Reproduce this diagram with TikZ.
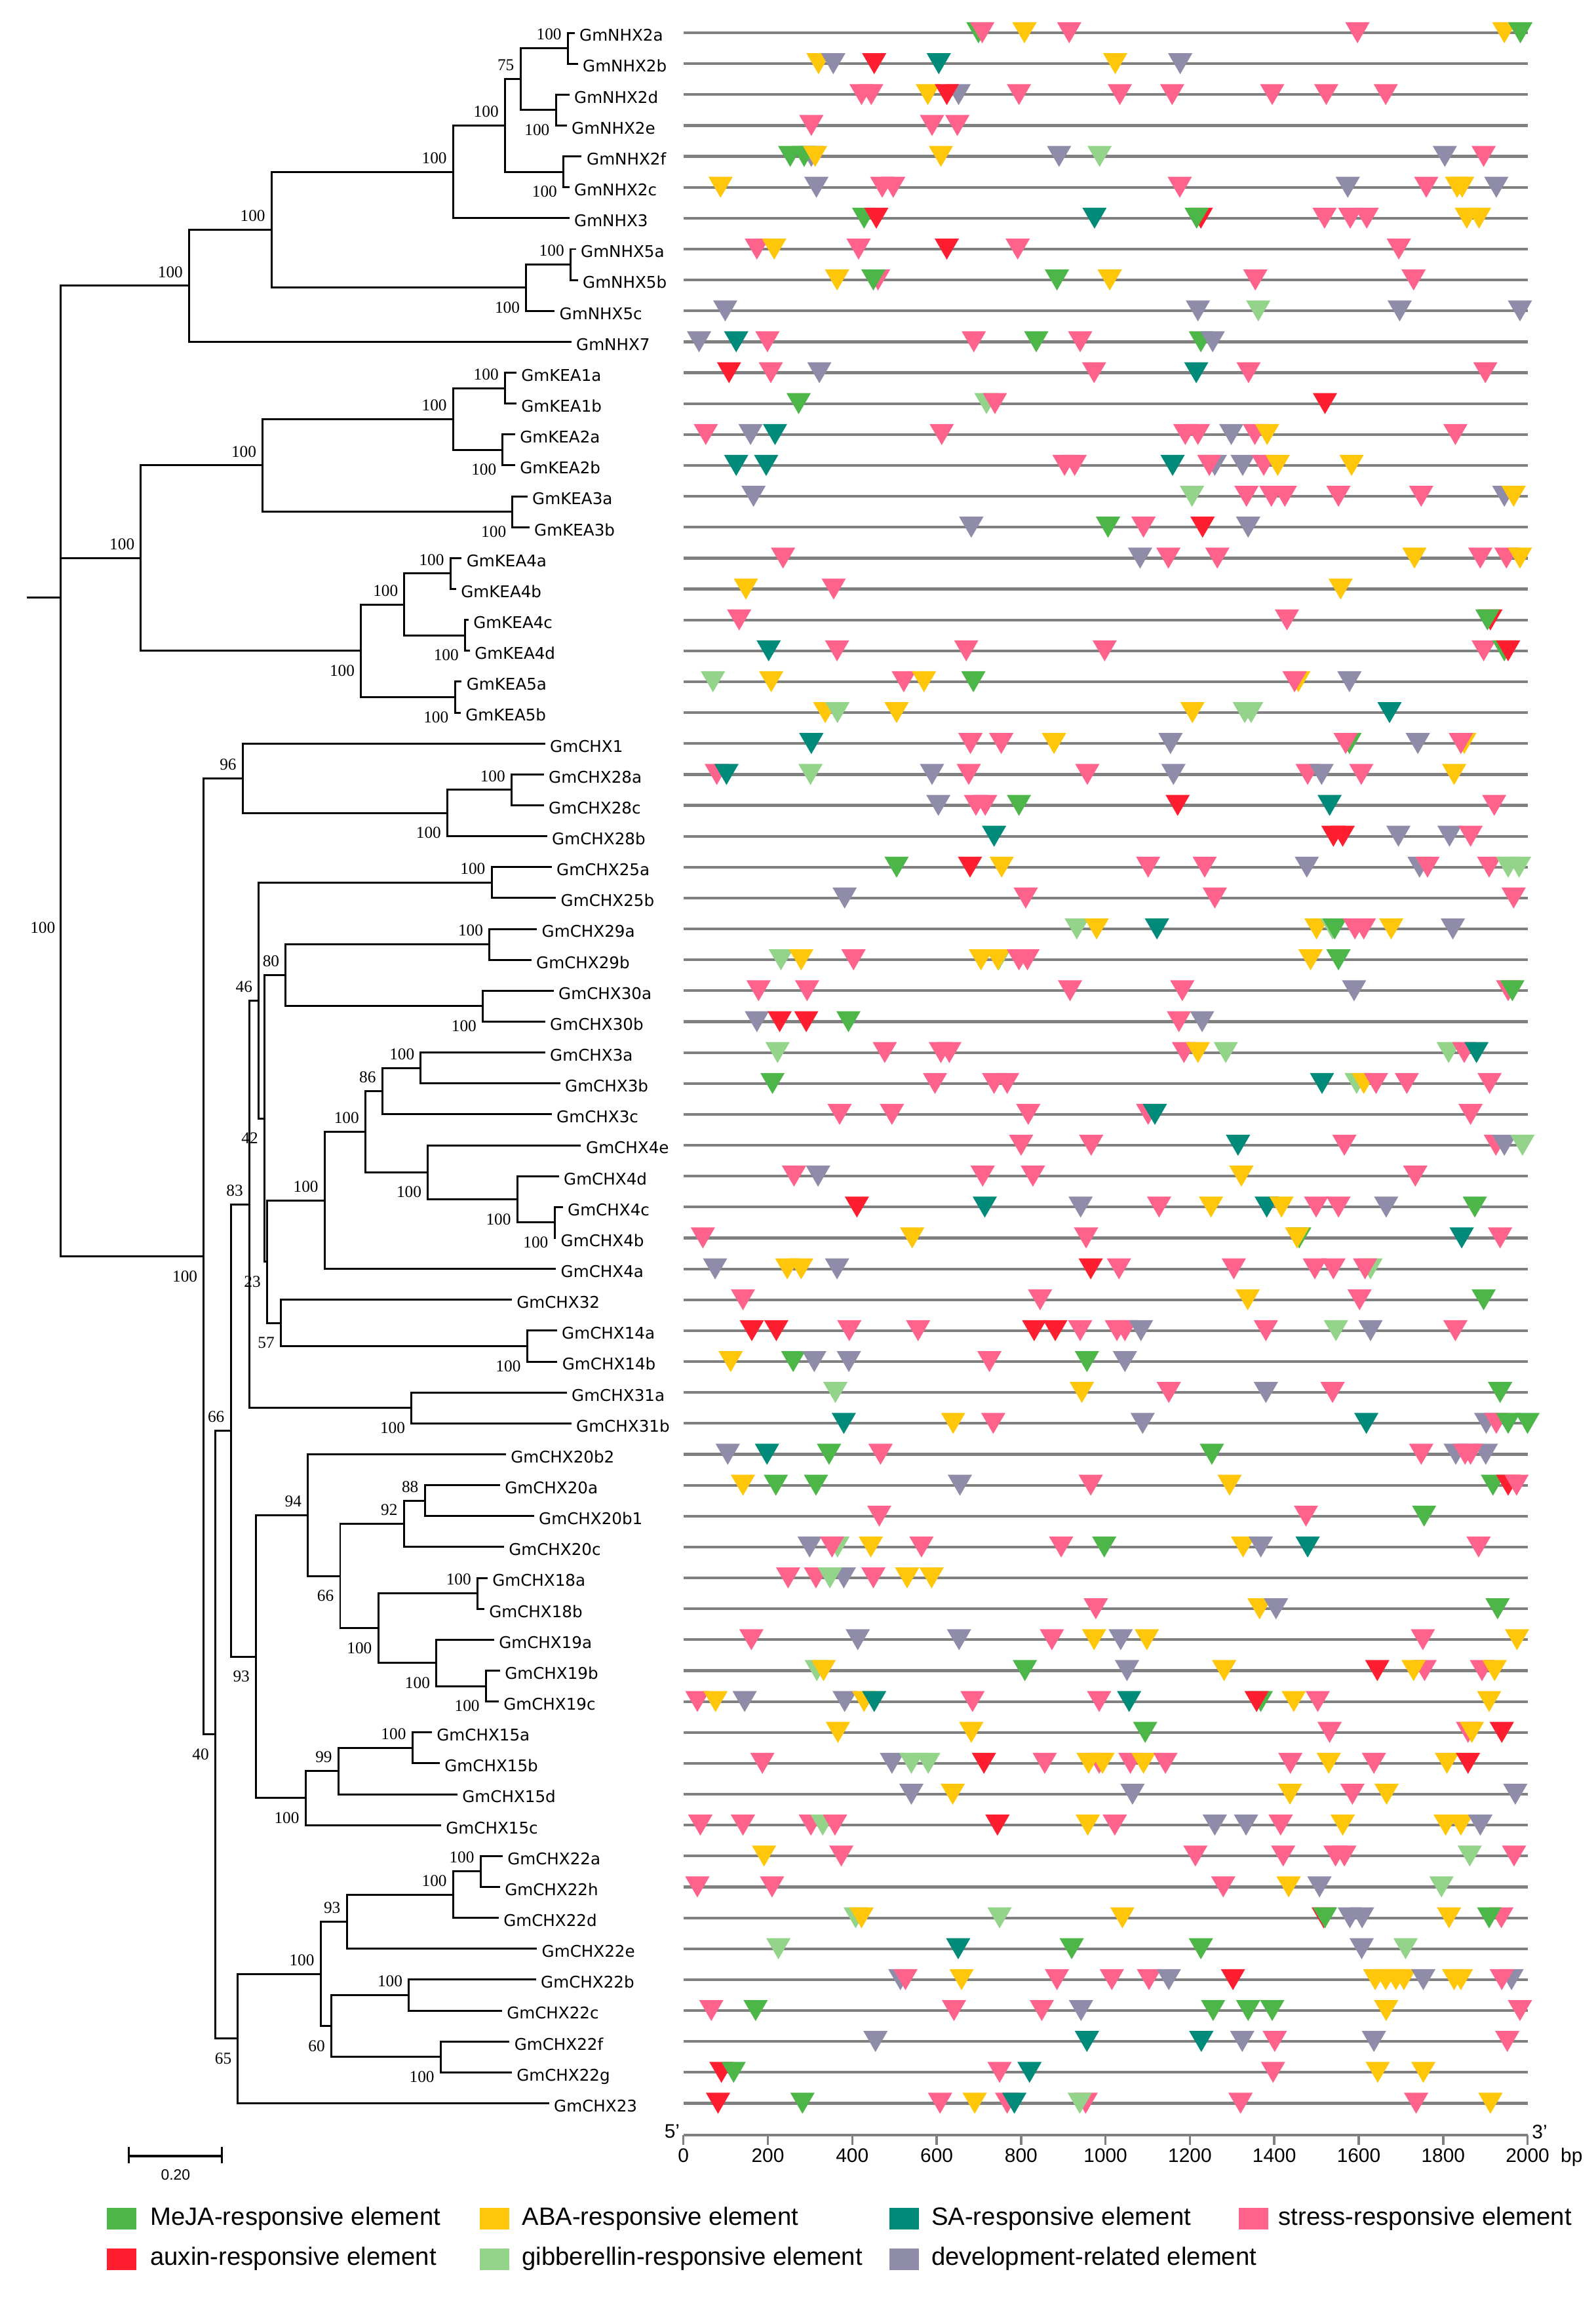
\documentclass[tikz,border=0pt]{standalone}
\usepackage{fontspec}
\setmainfont{Liberation Sans}
\newfontfamily\genefont{DejaVu Sans}
\newfontfamily\bootfont{Liberation Serif}
\usepackage{tikz}
\usetikzlibrary{positioning}

\definecolor{meja}{HTML}{4CB748}
\definecolor{auxin}{HTML}{FF1E30}
\definecolor{aba}{HTML}{FFC60A}
\definecolor{ga}{HTML}{93D48A}
\definecolor{sa}{HTML}{008A7A}
\definecolor{stress}{HTML}{FF638C}
\definecolor{dev}{HTML}{8F8CAA}
\definecolor{linegray}{HTML}{808080}

\tikzset{
    branch/.style={line width=0.85pt},
    gene/.style={anchor=west, inner sep=0.07cm, text height=0.8em, text depth=0.07em, font=\genefont\fontsize{7}{8}\selectfont},
    bsup/.style={anchor=south east, inner sep=0pt, xshift=-0.09cm, yshift=0.12cm, font=\bootfont\fontsize{7.2}{8}\selectfont},
    bsdn/.style={anchor=north east, inner sep=0pt, xshift=-0.09cm, yshift=-0.21cm, font=\bootfont\fontsize{7.2}{8}\selectfont},
    promoter/.style={draw=linegray, line width=1.2pt},
    axisline/.style={draw=linegray, line width=1.3pt},
    axistick/.style={draw=linegray, line width=1pt},
    axislab/.style={anchor=north, inner sep=0.05cm, font=\fontsize{8.5}{10}\selectfont},
    endlab/.style={inner sep=0.03cm, font=\fontsize{8.5}{10}\selectfont},
    scalebar/.style={line width=0.9pt},
    legbox/.style={minimum width=0.45cm, minimum height=0.33cm, inner sep=0pt},
    legtext/.style={inner sep=0pt, font=\fontsize{10.9}{13}\selectfont}
}

% one cis-element: row, position (bp), colour
\newcommand{\ciselem}[3]{\fill[fill=#3] ({#2-28.8},{#1-0.34}) -- ({#2+28.8},{#1-0.34}) -- (#2,{#1+0.34}) -- cycle;}
% one promoter: row, list of position/colour
\newcommand{\promrow}[2]{\draw[promoter] (0,#1) -- (2000,#1);
    \foreach \pos/\col in {#2} {\ciselem{#1}{\pos}{\col}}}

\begin{document}
\begin{tikzpicture}[x=0.01cm, y=-0.4714cm]
\useasboundingbox (0,-1.0607) rectangle (2436,73.27);

% ---- tree: internal nodes
\coordinate (stub) at (40.6,18.28);
\coordinate (root) at (92.6,18.28);
% NHX
\coordinate (nA) at (288.7,8.1875);
\coordinate (nB) at (414.5,6.375);
\coordinate (nC) at (691.7,4.5);
\coordinate (nD) at (803.2,8.25);
\coordinate (nE) at (770.8,3.0);
\coordinate (nF) at (794.5,1.5);
\coordinate (nG) at (860.0,4.5);
\coordinate (nH) at (866.8,0.5);
\coordinate (nI) at (848.5,2.5);
\coordinate (nJ) at (870.9,7.5);
% KEA
\coordinate (nK) at (215.0,17.0);
\coordinate (nL) at (400.9,14.0);
\coordinate (nM) at (551.0,20.0);
\coordinate (nN) at (691.7,12.5);
\coordinate (nO) at (782.3,15.5);
\coordinate (nP) at (770.8,11.5);
\coordinate (nQ) at (767.4,13.5);
\coordinate (nR) at (617.3,18.5);
\coordinate (nS) at (694.4,21.5);
\coordinate (nT) at (687.6,17.5);
\coordinate (nU) at (709.9,19.5);
% CHX
\coordinate (nV) at (311.0,39.596);
\coordinate (nW) at (370.5,24.125);
\coordinate (nY) at (682.9,25.25);
\coordinate (n28) at (780.9,24.5);
\coordinate (n40) at (328.6,55.067);
\coordinate (nAA) at (352.3,45.2275);
\coordinate (n83) at (380.7,37.908);
\coordinate (n46) at (394.9,31.316);
\coordinate (n25) at (750.5,27.5);
\coordinate (n42) at (403.7,35.133);
\coordinate (n80) at (436.1,30.5);
\coordinate (n29) at (747.1,29.5);
\coordinate (n30) at (737.0,31.5);
\coordinate (n23) at (407.7,39.766);
\coordinate (n34) at (495.6,37.781);
\coordinate (n34a) at (557.8,35.5625);
\coordinate (n3) at (583.5,34.25);
\coordinate (n3ab) at (642.3,33.5);
\coordinate (n4) at (653.1,36.875);
\coordinate (n4bcd) at (789.7,37.75);
\coordinate (n4bc) at (846.5,38.5);
\coordinate (n57) at (428.7,41.75);
\coordinate (n14) at (804.6,42.5);
\coordinate (n31) at (628.1,44.5);
\coordinate (n93) at (390.8,52.547);
\coordinate (n94) at (469.9,47.969);
\coordinate (n66) at (519.3,49.9375);
\coordinate (n20) at (616.6,48.25);
\coordinate (n20ab) at (648.4,47.5);
\coordinate (n1819) at (577.4,51.625);
\coordinate (n18) at (728.9,50.5);
\coordinate (n19) at (666.0,52.75);
\coordinate (n19bc) at (741.7,53.5);
\coordinate (n15) at (466.5,57.125);
\coordinate (n15abd) at (516.6,56.25);
\coordinate (n15ab) at (629.5,55.5);
\coordinate (n65) at (363.1,64.906);
\coordinate (n22) at (489.5,62.8125);
\coordinate (n22e) at (529.4,61.125);
\coordinate (n22ahd) at (691.7,60.25);
\coordinate (n22ah) at (733.6,59.5);
\coordinate (n60) at (505.7,64.5);
\coordinate (n22bc) at (624.1,63.5);
\coordinate (n22fg) at (672.7,65.5);

% ---- tree: leaves
\node[gene] (g0) at (877,0) {GmNHX2a};
\node[gene] (g1) at (882,1) {GmNHX2b};
\node[gene] (g2) at (869,2) {GmNHX2d};
\node[gene] (g3) at (865,3) {GmNHX2e};
\node[gene] (g4) at (888,4) {GmNHX2f};
\node[gene] (g5) at (869,5) {GmNHX2c};
\node[gene] (g6) at (869,6) {GmNHX3};
\node[gene] (g7) at (879,7) {GmNHX5a};
\node[gene] (g8) at (882,8) {GmNHX5b};
\node[gene] (g9) at (846.5,9) {GmNHX5c};
\node[gene] (g10) at (872,10) {GmNHX7};
\node[gene] (g11) at (788,11) {GmKEA1a};
\node[gene] (g12) at (788,12) {GmKEA1b};
\node[gene] (g13) at (786,13) {GmKEA2a};
\node[gene] (g14) at (786,14) {GmKEA2b};
\node[gene] (g15) at (805,15) {GmKEA3a};
\node[gene] (g16) at (808,16) {GmKEA3b};
\node[gene] (g17) at (704.5,17) {GmKEA4a};
\node[gene] (g18) at (696,18) {GmKEA4b};
\node[gene] (g19) at (715,19) {GmKEA4c};
\node[gene] (g20) at (717,20) {GmKEA4d};
\node[gene] (g21) at (704.5,21) {GmKEA5a};
\node[gene] (g22) at (703,22) {GmKEA5b};
\node[gene] (g23) at (832,23) {GmCHX1};
\node[gene] (g24) at (830,24) {GmCHX28a};
\node[gene] (g25) at (830,25) {GmCHX28c};
\node[gene] (g26) at (835,26) {GmCHX28b};
\node[gene] (g27) at (842,27) {GmCHX25a};
\node[gene] (g28) at (848.5,28) {GmCHX25b};
\node[gene] (g29) at (819.5,29) {GmCHX29a};
\node[gene] (g30) at (811,30) {GmCHX29b};
\node[gene] (g31) at (845,31) {GmCHX30a};
\node[gene] (g32) at (832,32) {GmCHX30b};
\node[gene] (g33) at (832,33) {GmCHX3a};
\node[gene] (g34) at (855,34) {GmCHX3b};
\node[gene] (g35) at (842,35) {GmCHX3c};
\node[gene] (g36) at (887,36) {GmCHX4e};
\node[gene] (g37) at (853,37) {GmCHX4d};
\node[gene] (g38) at (859,38) {GmCHX4c};
\node[gene] (g39) at (848.5,39) {GmCHX4b};
\node[gene] (g40) at (848.5,40) {GmCHX4a};
\node[gene] (g41) at (781,41) {GmCHX32};
\node[gene] (g42) at (850,42) {GmCHX14a};
\node[gene] (g43) at (850.6,43) {GmCHX14b};
\node[gene] (g44) at (865,44) {GmCHX31a};
\node[gene] (g45) at (872,45) {GmCHX31b};
\node[gene] (g46) at (772,46) {GmCHX20b2};
\node[gene] (g47) at (763,47) {GmCHX20a};
\node[gene] (g48) at (815,48) {GmCHX20b1};
\node[gene] (g49) at (769,49) {GmCHX20c};
\node[gene] (g50) at (744,50) {GmCHX18a};
\node[gene] (g51) at (739,51) {GmCHX18b};
\node[gene] (g52) at (754,52) {GmCHX19a};
\node[gene] (g53) at (763,53) {GmCHX19b};
\node[gene] (g54) at (761,54) {GmCHX19c};
\node[gene] (g55) at (659,55) {GmCHX15a};
\node[gene] (g56) at (671,56) {GmCHX15b};
\node[gene] (g57) at (698,57) {GmCHX15d};
\node[gene] (g58) at (673,58) {GmCHX15c};
\node[gene] (g59) at (767,59) {GmCHX22a};
\node[gene] (g60) at (763,60) {GmCHX22h};
\node[gene] (g61) at (761,61) {GmCHX22d};
\node[gene] (g62) at (819.5,62) {GmCHX22e};
\node[gene] (g63) at (818,63) {GmCHX22b};
\node[gene] (g64) at (766,64) {GmCHX22c};
\node[gene] (g65) at (777.5,65) {GmCHX22f};
\node[gene] (g66) at (781,66) {GmCHX22g};
\node[gene] (g67) at (838,67) {GmCHX23};

% ---- tree: branches
\draw[branch] (stub) -- (root) (root) |- (nA) (root) |- (nK) (root) |- (nV);
\draw[branch] (nA) |- (nB) (nA) |- (g10.west)
    (nB) |- (nC) (nB) |- (nD)
    (nC) |- (nE) (nC) |- (g6.west)
    (nE) |- (nF) (nE) |- (nG)
    (nF) |- (nH) (nF) |- (nI)
    (nH) |- (g0.west) (nH) |- (g1.west)
    (nI) |- (g2.west) (nI) |- (g3.west)
    (nG) |- (g4.west) (nG) |- (g5.west)
    (nD) |- (nJ) (nD) |- (g9.west)
    (nJ) |- (g7.west) (nJ) |- (g8.west);
\draw[branch] (nK) |- (nL) (nK) |- (nM)
    (nL) |- (nN) (nL) |- (nO)
    (nN) |- (nP) (nN) |- (nQ)
    (nP) |- (g11.west) (nP) |- (g12.west)
    (nQ) |- (g13.west) (nQ) |- (g14.west)
    (nO) |- (g15.west) (nO) |- (g16.west)
    (nM) |- (nR) (nM) |- (nS)
    (nR) |- (nT) (nR) |- (nU)
    (nT) |- (g17.west) (nT) |- (g18.west)
    (nU) |- (g19.west) (nU) |- (g20.west)
    (nS) |- (g21.west) (nS) |- (g22.west);
\draw[branch] (nV) |- (nW) (nV) |- (n40)
    (nW) |- (g23.west) (nW) |- (nY)
    (nY) |- (n28) (nY) |- (g26.west)
    (n28) |- (g24.west) (n28) |- (g25.west)
    (n40) |- (nAA) (n40) |- (n65)
    (nAA) |- (n83) (nAA) |- (n93)
    (n83) |- (n46) (n83) |- (n31)
    (n46) |- (n25) (n46) |- (n42)
    (n25) |- (g27.west) (n25) |- (g28.west)
    (n42) |- (n80) (n42) |- (n23)
    (n80) |- (n29) (n80) |- (n30)
    (n29) |- (g29.west) (n29) |- (g30.west)
    (n30) |- (g31.west) (n30) |- (g32.west)
    (n23) |- (n34) (n23) |- (n57)
    (n34) |- (n34a) (n34) |- (g40.west)
    (n34a) |- (n3) (n34a) |- (n4)
    (n3) |- (n3ab) (n3) |- (g35.west)
    (n3ab) |- (g33.west) (n3ab) |- (g34.west)
    (n4) |- (g36.west) (n4) |- (n4bcd)
    (n4bcd) |- (g37.west) (n4bcd) |- (n4bc)
    (n4bc) |- (g38.west) (n4bc) |- (g39.west)
    (n57) |- (g41.west) (n57) |- (n14)
    (n14) |- (g42.west) (n14) |- (g43.west)
    (n31) |- (g44.west) (n31) |- (g45.west);
\draw[branch] (n93) |- (n94) (n93) |- (n15)
    (n94) |- (g46.west) (n94) |- (n66)
    (n66) |- (n20) (n66) |- (n1819)
    (n20) |- (n20ab) (n20) |- (g49.west)
    (n20ab) |- (g47.west) (n20ab) |- (g48.west)
    (n1819) |- (n18) (n1819) |- (n19)
    (n18) |- (g50.west) (n18) |- (g51.west)
    (n19) |- (g52.west) (n19) |- (n19bc)
    (n19bc) |- (g53.west) (n19bc) |- (g54.west)
    (n15) |- (n15abd) (n15) |- (g58.west)
    (n15abd) |- (n15ab) (n15abd) |- (g57.west)
    (n15ab) |- (g55.west) (n15ab) |- (g56.west)
    (n65) |- (n22) (n65) |- (g67.west)
    (n22) |- (n22e) (n22) |- (n60)
    (n22e) |- (n22ahd) (n22e) |- (g62.west)
    (n22ahd) |- (n22ah) (n22ahd) |- (g61.west)
    (n22ah) |- (g59.west) (n22ah) |- (g60.west)
    (n60) |- (n22bc) (n60) |- (n22fg)
    (n22bc) |- (g63.west) (n22bc) |- (g64.west)
    (n22fg) |- (g65.west) (n22fg) |- (g66.west);

% ---- bootstrap values
\node[bsup, anchor=east, xshift=0.05cm, yshift=-0.12cm] (broot) at (89,28.97) {100};
\node[bsup] (bA) at (nA) {100};
\node[bsup] (bB) at (nB) {100};
\node[bsup] (bC) at (nC) {100};
\node[bsdn] (bD) at (nD) {100};
\node[bsup] (bE) at (nE) {100};
\node[bsup] (bF) at (nF) {75};
\node[bsdn] (bG) at (nG) {100};
\node[bsup] (bH) at (nH) {100};
\node[bsdn] (bI) at (nI) {100};
\node[bsup] (bJ) at (nJ) {100};
\node[bsup] (bK) at (nK) {100};
\node[bsup] (bL) at (nL) {100};
\node[bsdn] (bM) at (nM) {100};
\node[bsup] (bN) at (nN) {100};
\node[bsdn] (bO) at (nO) {100};
\node[bsup] (bP) at (nP) {100};
\node[bsdn] (bQ) at (nQ) {100};
\node[bsup] (bR) at (nR) {100};
\node[bsdn] (bS) at (nS) {100};
\node[bsup] (bT) at (nT) {100};
\node[bsdn] (bU) at (nU) {100};
\node[bsdn] (bV) at (nV) {100};
\node[bsup] (bW) at (nW) {96};
\node[bsdn] (bY) at (nY) {100};
\node[bsup] (b28) at (n28) {100};
\node[bsdn] (b40) at (n40) {40};
\node[bsup] (bAA) at (nAA) {66};
\node[bsup] (b83) at (n83) {83};
\node[bsup] (b46) at (n46) {46};
\node[bsup] (b25) at (n25) {100};
\node[bsdn] (b42) at (n42) {42};
\node[bsup] (b80) at (n80) {80};
\node[bsup] (b29) at (n29) {100};
\node[bsdn] (b30) at (n30) {100};
\node[bsdn] (b23) at (n23) {23};
\node[bsup] (b34) at (n34) {100};
\node[bsup] (b34a) at (n34a) {100};
\node[bsup] (b3) at (n3) {86};
\node[bsup] (b3ab) at (n3ab) {100};
\node[bsdn] (b4) at (n4) {100};
\node[bsdn] (b4bcd) at (n4bcd) {100};
\node[bsdn] (b4bc) at (n4bc) {100};
\node[bsdn] (b57) at (n57) {57};
\node[bsdn] (b14) at (n14) {100};
\node[bsdn] (b31) at (n31) {100};
\node[bsdn] (b93) at (n93) {93};
\node[bsup] (b94) at (n94) {94};
\node[bsdn] (b66) at (n66) {66};
\node[bsup] (b20) at (n20) {92};
\node[bsup] (b20ab) at (n20ab) {88};
\node[bsdn] (b1819) at (n1819) {100};
\node[bsup] (b18) at (n18) {100};
\node[bsdn] (b19) at (n19) {100};
\node[bsdn] (b19bc) at (n19bc) {100};
\node[bsdn] (b15) at (n15) {100};
\node[bsup] (b15abd) at (n15abd) {99};
\node[bsup] (b15ab) at (n15ab) {100};
\node[bsdn] (b65) at (n65) {65};
\node[bsup] (b22) at (n22) {100};
\node[bsup] (b22e) at (n22e) {93};
\node[bsup] (b22ahd) at (n22ahd) {100};
\node[bsup] (b22ah) at (n22ah) {100};
\node[bsdn] (b60) at (n60) {60};
\node[bsup] (b22bc) at (n22bc) {100};
\node[bsdn] (b22fg) at (n22fg) {100};

% ---- scale bar
\draw[scalebar] (197,68.41) -- (197,68.94) (197,68.71) -- (339,68.71) (339,68.41) -- (339,68.94);
\node[font=\fontsize{6.5}{8}\selectfont, inner sep=0pt] (sblab) at (268,69.32) {0.20};

% ---- promoters (x in bp)
\begin{scope}[xshift=10.427cm, x=0.0064335cm]
\promrow{0}{699/meja, 708/stress, 808/aba, 914/stress, 1597/stress, 1945/aba, 1983/meja}
\promrow{1}{320/aba, 355/dev, 452/auxin, 605/sa, 1023/aba, 1177/dev}
\promrow{2}{422/stress, 445/stress, 652/dev, 579/aba, 624/auxin, 795/stress, 1034/stress, 1158/stress, 1395/stress, 1523/stress, 1664/stress}
\promrow{3}{303/stress, 589/stress, 649/stress}
\promrow{4}{303/dev, 253/meja, 286/meja, 312/aba, 610/aba, 890/dev, 986/ga, 1804/dev, 1896/stress}
\promrow{5}{88/aba, 315/dev, 471/stress, 497/stress, 1176/stress, 1574/dev, 1760/stress, 1833/aba, 1845/aba, 1926/dev}
\promrow{6}{428/meja, 457/auxin, 974/sa, 1226/auxin, 1216/meja, 1519/stress, 1580/stress, 1619/stress, 1856/aba, 1885/aba}
\promrow{7}{174/stress, 215/aba, 415/stress, 624/auxin, 792/stress, 1695/stress}
\promrow{8}{364/aba, 461/stress, 450/meja, 885/meja, 1010/aba, 1355/stress, 1730/stress}
\promrow{9}{99/dev, 1219/dev, 1362/ga, 1697/dev, 1982/dev}
\promrow{10}{37/dev, 125/sa, 199/stress, 688/stress, 836/meja, 940/stress, 1226/meja, 1254/dev}
\promrow{11}{108/auxin, 207/stress, 322/dev, 973/stress, 1215/sa, 1339/stress, 1900/stress}
\promrow{12}{273/meja, 718/ga, 738/stress, 1520/auxin}
\promrow{13}{53/stress, 159/dev, 217/sa, 612/stress, 1189/stress, 1219/stress, 1298/dev, 1354/stress, 1383/aba, 1829/stress}
\promrow{14}{125/sa, 196/sa, 903/stress, 927/stress, 1159/sa, 1259/dev, 1246/stress, 1325/dev, 1375/stress, 1408/aba, 1583/aba}
\promrow{15}{166/dev, 1205/ga, 1334/stress, 1393/stress, 1425/stress, 1552/stress, 1748/stress, 1945/dev, 1967/aba}
\promrow{16}{682/dev, 1006/meja, 1090/stress, 1230/auxin, 1338/dev}
\promrow{17}{236/stress, 1082/dev, 1149/stress, 1265/stress, 1732/aba, 1888/stress, 1950/stress, 1982/aba}
\promrow{18}{148/aba, 356/stress, 1557/aba}
\promrow{19}{132/stress, 1430/stress, 1912/auxin, 1905/meja}
\promrow{20}{202/sa, 364/stress, 670/stress, 998/stress, 1896/stress, 1945/meja, 1954/auxin}
\promrow{21}{70/ga, 208/aba, 522/stress, 570/aba, 687/meja, 1457/aba, 1448/stress, 1578/dev}
\promrow{22}{336/aba, 365/ga, 505/aba, 1206/aba, 1330/ga, 1345/ga, 1673/sa}
\promrow{23}{303/sa, 680/stress, 753/stress, 878/aba, 1154/dev, 1578/meja, 1569/stress, 1740/dev, 1850/aba, 1842/stress}
\promrow{24}{79/stress, 102/sa, 301/ga, 589/dev, 676/stress, 957/stress, 1161/dev, 1479/stress, 1512/dev, 1606/stress, 1826/aba}
\promrow{25}{604/dev, 693/stress, 715/stress, 795/meja, 1171/auxin, 1531/sa, 1921/stress}
\promrow{26}{736/sa, 1540/auxin, 1562/auxin, 1694/dev, 1815/dev, 1865/stress}
\promrow{27}{505/meja, 679/auxin, 754/aba, 1101/stress, 1235/stress, 1477/dev, 1744/dev, 1763/stress, 1909/stress, 1954/ga, 1980/ga}
\promrow{28}{382/dev, 811/stress, 1259/stress, 1967/stress}
\promrow{29}{932/ga, 979/aba, 1122/sa, 1500/aba, 1538/ga, 1543/meja, 1591/stress, 1612/stress, 1677/aba, 1823/dev}
\promrow{30}{231/ga, 279/aba, 403/stress, 705/aba, 747/ga, 745/aba, 795/stress, 815/stress, 1486/aba, 1552/meja}
\promrow{31}{178/stress, 293/stress, 916/stress, 1182/stress, 1589/dev, 1954/stress, 1964/meja}
\promrow{32}{174/dev, 228/auxin, 291/auxin, 391/meja, 1174/stress, 1229/dev}
\promrow{33}{223/ga, 477/stress, 610/stress, 630/stress, 1186/stress, 1219/aba, 1285/ga, 1813/ga, 1850/stress, 1879/sa}
\promrow{34}{211/meja, 596/stress, 736/stress, 767/stress, 1513/sa, 1595/ga, 1612/aba, 1641/stress, 1714/stress, 1910/stress}
\promrow{35}{370/stress, 494/stress, 817/stress, 1101/stress, 1117/sa, 1865/stress}
\promrow{36}{800/stress, 966/stress, 1314/sa, 1566/stress, 1925/stress, 1945/dev, 1988/ga}
\promrow{37}{262/stress, 319/dev, 709/stress, 828/stress, 1322/aba, 1734/stress}
\promrow{38}{411/auxin, 714/sa, 941/dev, 1127/stress, 1250/aba, 1382/sa, 1417/aba, 1499/stress, 1552/stress, 1665/dev, 1875/meja}
\promrow{39}{46/stress, 542/aba, 954/stress, 1459/meja, 1454/aba, 1844/sa, 1935/stress}
\promrow{40}{75/dev, 246/aba, 279/aba, 364/dev, 965/auxin, 1032/stress, 1304/stress, 1496/stress, 1540/stress, 1628/ga, 1615/stress}
\promrow{41}{141/stress, 845/stress, 1337/aba, 1602/stress, 1896/meja}
\promrow{42}{162/auxin, 220/auxin, 393/stress, 556/stress, 831/auxin, 881/auxin, 940/stress, 1027/stress, 1046/stress, 1084/dev, 1380/stress, 1546/ga, 1628/dev, 1829/stress}
\promrow{43}{112/aba, 260/meja, 310/dev, 392/dev, 725/stress, 956/meja, 1046/dev}
\promrow{44}{360/ga, 944/aba, 1150/stress, 1380/dev, 1538/stress, 1935/meja}
\promrow{45}{380/sa, 639/aba, 734/stress, 1088/dev, 1618/sa, 1902/dev, 1926/stress, 1954/meja, 2000/meja}
\promrow{46}{105/dev, 198/sa, 345/meja, 467/stress, 1252/meja, 1748/stress, 1830/dev, 1901/dev, 1852/stress, 1865/stress}
\promrow{47}{141/aba, 219/meja, 314/meja, 655/dev, 965/stress, 1294/aba, 1918/meja, 1954/auxin, 1974/stress}
\promrow{48}{464/stress, 1475/stress, 1755/meja}
\promrow{49}{299/dev, 365/ga, 352/stress, 444/aba, 564/stress, 895/stress, 997/meja, 1326/aba, 1368/dev, 1479/sa, 1884/stress}
\promrow{50}{248/stress, 314/stress, 380/dev, 347/ga, 450/stress, 530/aba, 588/aba}
\promrow{51}{977/stress, 1365/aba, 1404/dev, 1929/meja}
\promrow{52}{161/stress, 413/dev, 653/dev, 873/stress, 973/aba, 1036/dev, 1098/aba, 1752/stress, 1975/aba}
\promrow{53}{316/ga, 332/aba, 809/meja, 1051/dev, 1281/aba, 1644/auxin, 1756/stress, 1730/aba, 1892/stress, 1922/aba}
\promrow{54}{33/stress, 76/aba, 145/dev, 382/dev, 428/aba, 452/sa, 685/stress, 985/stress, 1056/sa, 1368/meja, 1358/auxin, 1446/aba, 1503/stress, 1909/aba}
\promrow{55}{366/aba, 682/aba, 1094/meja, 1531/stress, 1859/stress, 1868/aba, 1939/auxin}
\promrow{56}{187/stress, 494/dev, 540/ga, 580/ga, 712/auxin, 856/stress, 985/stress, 960/aba, 993/aba, 1059/stress, 1090/aba, 1142/stress, 1438/stress, 1529/aba, 1636/stress, 1809/aba, 1859/auxin}
\promrow{57}{540/dev, 638/aba, 1064/dev, 1437/aba, 1585/stress, 1666/aba, 1971/dev}
\promrow{58}{40/stress, 141/stress, 302/stress, 330/ga, 359/stress, 744/auxin, 958/aba, 1022/stress, 1259/dev, 1333/dev, 1415/stress, 1562/aba, 1806/aba, 1842/aba, 1888/dev}
\promrow{59}{191/aba, 374/stress, 1213/stress, 1421/stress, 1545/stress, 1566/stress, 1863/ga, 1968/stress}
\promrow{60}{33/stress, 210/stress, 1279/stress, 1434/aba, 1507/dev, 1796/ga}
\promrow{61}{408/ga, 422/aba, 749/ga, 1040/aba, 1517/auxin, 1520/meja, 1579/dev, 1608/dev, 1814/aba, 1938/stress, 1909/meja}
\promrow{62}{225/ga, 651/sa, 920/meja, 1226/meja, 1607/dev, 1711/ga}
\promrow{63}{514/dev, 526/stress, 659/aba, 885/stress, 1015/stress, 1103/stress, 1150/dev, 1302/auxin, 1639/aba, 1664/aba, 1688/aba, 1707/aba, 1753/dev, 1826/aba, 1842/aba, 1962/dev, 1939/stress}
\promrow{64}{66/stress, 171/meja, 641/stress, 849/stress, 942/dev, 1255/meja, 1338/meja, 1395/meja, 1665/aba, 1982/stress}
\promrow{65}{455/dev, 956/sa, 1227/sa, 1324/dev, 1401/stress, 1636/dev, 1952/stress}
\promrow{66}{90/auxin, 119/meja, 749/stress, 820/sa, 1397/stress, 1645/aba, 1753/aba}
\promrow{67}{82/auxin, 282/meja, 608/stress, 690/aba, 767/stress, 784/sa, 953/stress, 939/ga, 1320/stress, 1736/stress, 1912/aba}

% position axis
\draw[axisline] (0,68.03) -- (2000,68.03);
\foreach \tk in {0,200,...,2000} {
    \draw[axistick] (\tk,68.03) -- (\tk,68.35);
    \node[axislab] (t\tk) at (\tk,68.35) {\tk};
}
\node[axislab, anchor=base west] (bpunit) at ([xshift=0.06cm]t2000.base east) {bp};
\node[endlab, anchor=east] (five) at (-3,67.92) {5'};
\node[endlab, anchor=west] (three) at (2005,67.92) {3'};
\end{scope}

% ---- legend
\node[legbox, fill=meja] (kMeJA) at (185.5,70.73) {};
\node[legtext, right=0.2cm of kMeJA] (tMeJA) {MeJA-responsive element};
\node[legbox, fill=aba] (kABA) at (755,70.73) {};
\node[legtext, right=0.18cm of kABA] (tABA) {ABA-responsive element};
\node[legbox, fill=sa] (kSA) at (1380,70.73) {};
\node[legtext, right=0.18cm of kSA] (tSA) {SA-responsive element};
\node[legbox, fill=stress] (kStress) at (1914,70.73) {};
\node[legtext, right=0.14cm of kStress] (tStress) {stress-responsive element};
\node[legbox, fill=auxin] (kAux) at (185.5,72.04) {};
\node[legtext, right=0.2cm of kAux] (tAux) {auxin-responsive element};
\node[legbox, fill=ga] (kGA) at (755,72.04) {};
\node[legtext, right=0.18cm of kGA] (tGA) {gibberellin-responsive element};
\node[legbox, fill=dev] (kDev) at (1380,72.04) {};
\node[legtext, right=0.18cm of kDev] (tDev) {development-related element};
\end{tikzpicture}
\end{document}
